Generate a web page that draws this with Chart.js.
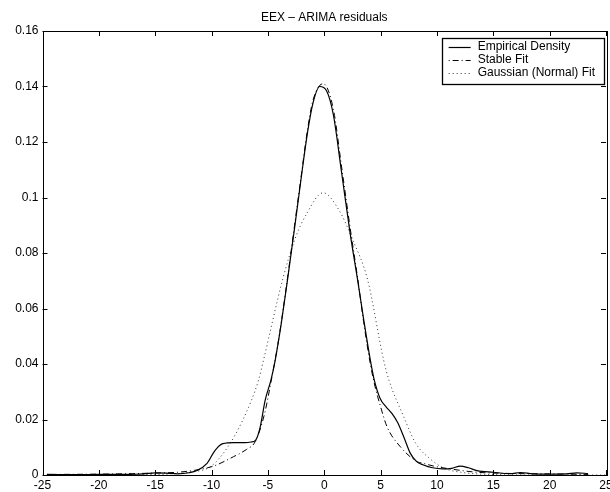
<!DOCTYPE html>
<html>
<head>
<meta charset="utf-8">
<script src="https://cdn.jsdelivr.net/npm/chart.js@4.4.1/dist/chart.umd.min.js"></script>
<style>
  html, body { margin: 0; padding: 0; background: #fff; }
  #wrap { width: 610px; height: 492px; }
</style>
</head>
<body>
<div id="wrap"><canvas id="c" width="610" height="492"></canvas></div>
<script>
// Densidad empírica de residuos ARIMA (EEX) frente a ajustes estable y normal.
const TITLE = "EEX \u2013 ARIMA residuals";

const xTicks = [-25, -20, -15, -10, -5, 0, 5, 10, 15, 20, 25];
const xTickLabels = ["-25", "-20", "-15", "-10", "-5", "0", "5", "10", "15", "20", "25"];
const yTicks = [0, 0.02, 0.04, 0.06, 0.08, 0.1, 0.12, 0.14, 0.16];
const yTickLabels = ["0", "0.02", "0.04", "0.06", "0.08", "0.1", "0.12", "0.14", "0.16"];

// Empirical Density (línea continua)
const empX = [-24.6, -22, -20, -18, -16, -15, -14, -13, -12, -11.3, -10.4, -9.7, -9.0, -8.0, -7.0,
    -6.5, -6.1, -5.7, -5.24, -4.73, -4.35, -3.8, -3.26, -2.6, -2.07, -1.5, -1.0, -0.4, 0.2, 0.8,
    1.54, 2.3, 2.96, 3.5, 4.09, 4.44, 4.97, 5.5, 6.0, 6.5, 7.05, 7.64, 8.2, 8.8, 9.6, 10.5, 11.3,
    12.08, 12.8, 13.56, 15.0, 16.5, 17.4, 18.5, 20, 21.5, 22.4, 23.4];
const empY = [0.0002, 0.0001, 0.0002, 0.0002, 0.0004, 0.0008, 0.0007, 0.0004, 0.0008, 0.0016, 0.0042, 0.0088, 0.0113, 0.0117, 0.0117,
    0.0119, 0.0125, 0.017, 0.027, 0.0342, 0.0414, 0.055, 0.0703, 0.090, 0.1063, 0.123, 0.134, 0.140, 0.1385, 0.130,
    0.109, 0.087, 0.0703, 0.056, 0.0414, 0.0342, 0.0275, 0.0245, 0.0222, 0.019, 0.0138, 0.0078, 0.0048, 0.0036, 0.0026, 0.0022, 0.0024,
    0.0032, 0.0026, 0.0016, 0.001, 0.0005, 0.0009, 0.0004, 0.0003, 0.0004, 0.0008, 0.0005];

// Stable Fit (raya-punto)
const stbX = [-24.6, -20, -17, -15, -13, -11.5, -9.83, -8.05, -6.9, -6.13, -5.3, -4.73, -4.0, -3.26, -2.6, -2.07,
    -1.5, -1.0, -0.1, 0.8, 1.54, 2.3, 2.96, 3.5, 4.09, 4.5, 4.97, 5.57, 6.75, 8.23, 8.8, 9.71, 11.5, 13.5, 16, 20, 23.4];
const stbY = [0.0002, 0.0003, 0.0005, 0.0007, 0.001, 0.0017, 0.0032, 0.0066, 0.0092, 0.012, 0.022, 0.0335, 0.050, 0.071, 0.091, 0.107,
    0.124, 0.135, 0.141, 0.132, 0.111, 0.089, 0.0710, 0.055, 0.040, 0.032, 0.025, 0.0174, 0.0102, 0.0048, 0.0042, 0.0032, 0.002, 0.001, 0.0006, 0.0004, 0.0002];

// Gaussian (Normal) Fit (punteado)
const gauX = [-25, -20, -17, -14, -12, -10.1, -8.64, -7.16, -5.83, -5.39, -3.7, -2.6, -1.54, -0.1, 1.3, 2.5,
    3.85, 5.27, 5.74, 7.05, 8.1, 9.4, 10.6, 12.1, 14, 16, 20, 25];
const gauY = [0, 0, 0.0001, 0.0003, 0.001, 0.003, 0.0096, 0.0204, 0.0342, 0.0414, 0.0703, 0.085, 0.0943, 0.1017, 0.0955, 0.085,
    0.0703, 0.0414, 0.0342, 0.021, 0.0115, 0.0058, 0.0025, 0.001, 0.0003, 0.0001, 0, 0];

const toPoints = (xs, ys) => xs.map((x, i) => ({x: x, y: ys[i]}));

const FONT = {family: "'Liberation Sans', Arial, sans-serif", size: 12};
const INK = "#000";
const TICK_LEN = 5;

// Marco, ticks hacia dentro en los cuatro lados, título y leyenda estilo MATLAB.
const matlabFrame = {
    id: "matlabFrame",
    afterDraw(chart) {
        const ctx = chart.ctx;
        const a = chart.chartArea;
        const xs = chart.scales.x;
        const ys = chart.scales.y;
        ctx.save();
        ctx.strokeStyle = INK;
        ctx.lineWidth = 1;
        ctx.setLineDash([]);
        ctx.beginPath();
        xs.ticks.forEach((t) => {
            const px = Math.round(xs.getPixelForValue(t.value)) + 0.5;
            ctx.moveTo(px, a.bottom); ctx.lineTo(px, a.bottom - TICK_LEN);
            ctx.moveTo(px, a.top); ctx.lineTo(px, a.top + TICK_LEN);
        });
        ys.ticks.forEach((t) => {
            const py = Math.round(ys.getPixelForValue(t.value)) + 0.5;
            ctx.moveTo(a.left, py); ctx.lineTo(a.left + TICK_LEN, py);
            ctx.moveTo(a.right, py); ctx.lineTo(a.right - TICK_LEN, py);
        });
        ctx.stroke();
        ctx.strokeRect(Math.round(a.left) + 0.5, Math.round(a.top) + 0.5,
            Math.round(a.right - a.left), Math.round(a.bottom - a.top));

        // título centrado sobre el área de dibujo
        ctx.font = `${FONT.size}px ${FONT.family}`;
        ctx.fillStyle = INK;
        ctx.textAlign = "center";
        ctx.textBaseline = "alphabetic";
        ctx.fillText(TITLE, (a.left + a.right) / 2, 21);

        // leyenda
        const sets = chart.data.datasets;
        const textW = Math.max(...sets.map((d) => ctx.measureText(d.label).width));
        const w = 36 + textW + 9;
        const h = 46;
        const right = a.right - 2;
        const top = a.top + 7;
        const left = right - w;
        ctx.fillStyle = "#fff";
        ctx.fillRect(left, top, w, h);
        ctx.lineWidth = 1.3;
        ctx.strokeRect(Math.round(left) + 0.5, Math.round(top) + 0.5, Math.round(w), h);
        ctx.textAlign = "left";
        ctx.textBaseline = "middle";
        sets.forEach((d, i) => {
            const y = top + 8.5 + i * 13;
            ctx.strokeStyle = d.borderColor;
            ctx.lineWidth = d.borderWidth;
            ctx.setLineDash(d.borderDash || []);
            ctx.beginPath();
            ctx.moveTo(left + 7, Math.round(y) + 0.5);
            ctx.lineTo(left + 29, Math.round(y) + 0.5);
            ctx.stroke();
            ctx.setLineDash([]);
            ctx.fillStyle = INK;
            ctx.fillText(d.label, left + 36, y);
        });
        ctx.restore();
    },
};

new Chart(document.getElementById("c"), {
    type: "line",
    data: {
        datasets: [
            {
                label: "Empirical Density",
                data: toPoints(empX, empY),
                borderColor: "#000",
                borderWidth: 1.2,
            },
            {
                label: "Stable Fit",
                data: toPoints(stbX, stbY),
                borderColor: "#000",
                borderWidth: 1,
                borderDash: [1, 3, 6, 3],
            },
            {
                label: "Gaussian (Normal) Fit",
                data: toPoints(gauX, gauY),
                borderColor: "#333",
                borderWidth: 1,
                borderDash: [1, 3],
            },
        ],
    },
    options: {
        responsive: false,
        animation: false,
        devicePixelRatio: 1,
        elements: {
            point: {radius: 0, hoverRadius: 0},
            line: {cubicInterpolationMode: "monotone", fill: false},
        },
        layout: {padding: {top: 31, right: 4, left: 0, bottom: 0}},
        plugins: {
            legend: {display: false},
            title: {display: false},
            tooltip: {enabled: false},
        },
        scales: {
            x: {
                type: "linear",
                min: -25,
                max: 25,
                afterBuildTicks: (s) => { s.ticks = xTicks.map((v) => ({value: v})); },
                afterFit: (s) => { s.height = 17; s.paddingLeft = 0; s.paddingRight = 0; },
                ticks: {
                    color: INK,
                    font: FONT,
                    padding: 3,
                    maxRotation: 0,
                    autoSkip: false,
                    callback: (v) => xTickLabels[xTicks.indexOf(v)],
                },
                grid: {display: false, drawTicks: false},
                border: {display: false},
            },
            y: {
                min: 0,
                max: 0.16,
                afterBuildTicks: (s) => { s.ticks = yTicks.map((v) => ({value: v})); },
                afterFit: (s) => { s.width = 42.5; s.paddingTop = 0; s.paddingBottom = 0; },
                ticks: {
                    color: INK,
                    font: FONT,
                    padding: 4,
                    autoSkip: false,
                    callback: (v, i) => yTickLabels[i],
                },
                grid: {display: false, drawTicks: false},
                border: {display: false},
            },
        },
    },
    plugins: [matlabFrame],
});
</script>
</body>
</html>
